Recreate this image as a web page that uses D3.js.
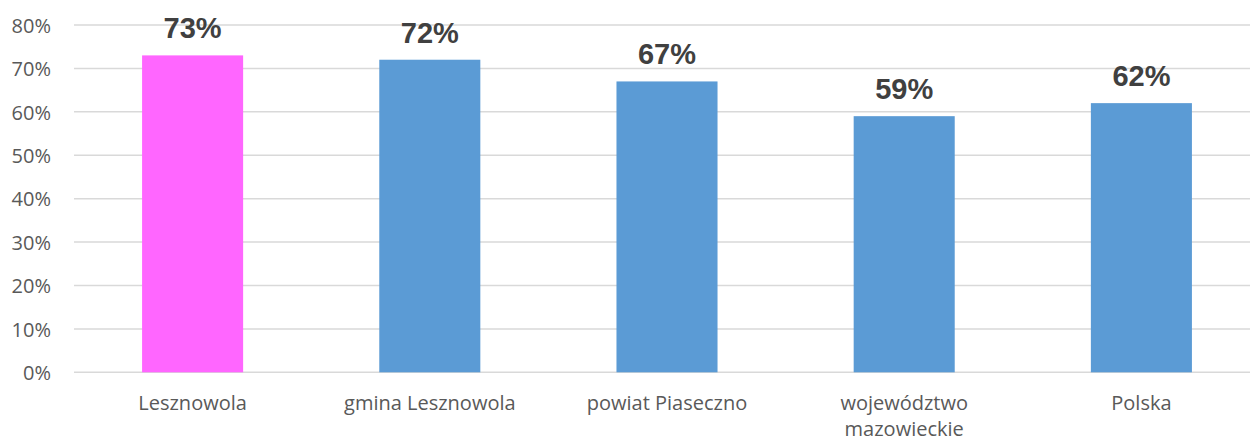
<!DOCTYPE html>
<html><head><meta charset="utf-8">
<script src="https://cdn.jsdelivr.net/npm/d3@7"></script>
<style>body{margin:0;background:#fff}svg{display:block}</style>
</head><body>
<svg id="c" width="1250" height="441"></svg>
<script>
const categories = ["Lesznowola", "gmina Lesznowola", "powiat Piaseczno", "województwo mazowieckie", "Polska"];
const values = [0.73, 0.72, 0.67, 0.59, 0.62];
const colors = ["#FF66FF", "#5B9BD5", "#5B9BD5", "#5B9BD5", "#5B9BD5"];
const yTicks = [0, 0.1, 0.2, 0.3, 0.4, 0.5, 0.6, 0.7, 0.8];

const svg = d3.select("#c");
const x = d3.scaleBand().domain(categories).range([74, 1260]).padding(0);
const y = d3.scaleLinear().domain([0, 0.8]).range([372.3, 25]);
const barW = x.bandwidth() * 0.426;

// gridlines
svg.append("g").selectAll("line").data(yTicks).join("line")
  .attr("x1", 74).attr("x2", 1260)
  .attr("y1", d => y(d)).attr("y2", d => y(d))
  .attr("stroke", "#D9D9D9").attr("stroke-width", 1.5);

// y axis labels
const yAxis = d3.axisLeft(y).tickValues(yTicks).tickFormat(d3.format(".0%")).tickSize(0).tickPadding(0);
const ya = svg.append("g").attr("transform", "translate(51,0)").call(yAxis);
ya.select(".domain").remove();
ya.selectAll("text").attr("font-family", "'Open Sans', sans-serif").attr("font-size", 20)
  .attr("fill", "#595959").attr("dy", "0.36em");

// bars
svg.append("g").selectAll("rect").data(categories).join("rect")
  .attr("x", d => x(d) + x.bandwidth() / 2 - barW / 2)
  .attr("width", barW)
  .attr("y", (d, i) => y(values[i]))
  .attr("height", (d, i) => y(0) - y(values[i]))
  .attr("fill", (d, i) => colors[i]);

// value labels
svg.append("g").selectAll("text").data(categories).join("text")
  .attr("x", d => x(d) + x.bandwidth() / 2)
  .attr("y", (d, i) => y(values[i]) - 17)
  .attr("text-anchor", "middle")
  .attr("font-family", "'Liberation Sans', Arial, sans-serif")
  .attr("font-weight", "bold").attr("font-size", 29).attr("fill", "#404040")
  .text((d, i) => d3.format(".0%")(values[i]));

// category labels
const xa = svg.append("g").selectAll("text").data(categories).join("text")
  .attr("x", d => x(d) + x.bandwidth() / 2)
  .attr("y", 410)
  .attr("text-anchor", "middle")
  .attr("font-family", "'Open Sans', sans-serif").attr("font-size", 20).attr("fill", "#595959");
xa.each(function(d) {
  const t = d3.select(this);
  const lines = d === "województwo mazowieckie" ? ["województwo", "mazowieckie"] : [d];
  lines.forEach((l, i) => t.append("tspan").attr("x", x(d) + x.bandwidth() / 2).attr("dy", i ? 26 : 0).text(l));
});
</script>
</body></html>
